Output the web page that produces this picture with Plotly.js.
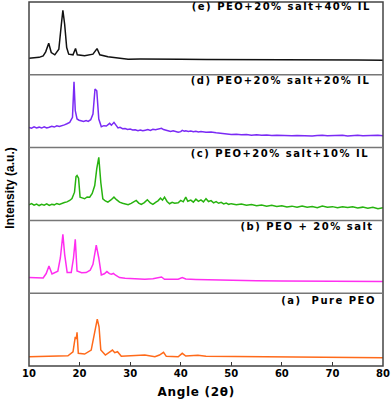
<!DOCTYPE html>
<html>
<head>
<meta charset="utf-8">
<script src="https://cdn.plot.ly/plotly-3.0.1.min.js"></script>
<style>
  html, body { margin: 0; padding: 0; background: #fff; }
  #graph { width: 392px; height: 400px; }
</style>
</head>
<body>
<div id="graph"></div>
<script>
// (a) Pure PEO
var angleA = [10, 12, 13.75, 16, 17.7, 18.7, 19.15, 19.35, 19.5, 19.75, 21, 22.3, 23, 23.5, 23.85, 24.2, 25.1, 26.5, 26.95, 27.5, 28.25, 30, 32.9, 34.9, 35.8, 36.6, 37.15, 39.5, 40.3, 41, 43.4, 45, 50, 55, 60, 65, 70, 75, 80];
var intA = [9.3, 9.5, 9.3, 9.8, 10.3, 14.3, 29.3, 27, 33.7, 12.7, 12, 16, 32.7, 47, 39.3, 16, 11, 16, 13.3, 14.3, 9.7, 10.2, 11, 9.3, 11, 13.7, 9.7, 9.3, 12.7, 10, 10.7, 9.8, 9.5, 9.2, 9, 8.8, 8.7, 8.5, 8.3];

// (b) PEO + 20% salt
var angleB = [10, 11, 12, 12.8, 13.4, 13.95, 14.55, 15.2, 15.7, 16.2, 16.7, 17.05, 17.55, 18.35, 18.8, 19.15, 19.5, 20.4, 21.3, 22.1, 22.65, 23.3, 23.8, 24.3, 24.9, 25.4, 25.9, 26.3, 26.7, 27.05, 27.9, 29, 31, 32.9, 34.5, 36.2, 36.8, 38, 39.5, 40.3, 41, 43, 45, 47, 50, 55, 60, 65, 70, 75, 80];
var intB = [15.7, 15.5, 15.6, 15.3, 19.7, 27.3, 19.3, 20.5, 22, 35.3, 59, 39, 20.7, 20.7, 35.3, 54, 22.3, 20.5, 20.7, 23, 29, 48.3, 35.3, 18.3, 19.5, 21.7, 19.6, 19, 19.8, 18.3, 15.7, 15, 14.6, 14, 14.5, 16.3, 14, 14.3, 14, 15.7, 14.2, 13.8, 13.5, 13.4, 13.2, 12.6, 12.3, 12.2, 12, 11.9, 11.7];

// (c) PEO+20% salt+10% IL
var angleC = [10, 10.5, 11, 11.5, 12, 12.5, 13, 13.5, 14, 14.5, 15, 15.5, 16, 16.5, 17, 17.5, 18.05, 18.5, 19, 19.3, 19.5, 19.8, 20.1, 20.5, 21, 21.5, 22, 22.5, 23, 23.4, 23.8, 24.2, 24.6, 25.1, 25.6, 26.2, 26.8, 27.3, 27.9, 28.5, 29, 29.6, 30.2, 30.7, 31.2, 31.7, 32.2, 32.8, 33.4, 34, 34.5, 35.1, 35.5, 36, 36.4, 36.8, 37.3, 37.8, 38.3, 38.8, 39.5, 40, 40.5, 41, 41.4, 42, 42.5, 43, 43.5, 44, 44.5, 45, 45.5, 46, 46.5, 47, 47.5, 48, 48.5, 49, 49.5, 50, 51, 52, 53, 54, 55, 56, 57, 58, 59, 60, 61, 62, 63, 64, 65, 66, 67, 68, 69, 70, 71, 72, 73, 74, 75, 76, 77, 78, 79, 80];
var intC = [15.7, 16.8, 15.2, 16.4, 14.9, 16.1, 15.3, 16.6, 15, 16.2, 15.6, 17, 16.1, 17.3, 17.9, 18.6, 20, 22, 28.3, 44, 45, 42.3, 23.3, 22.6, 21.7, 23.5, 23.3, 27, 35, 52, 63.3, 38, 21.7, 19.5, 18.3, 20.5, 23.3, 20.8, 18.3, 17.2, 16.5, 15.7, 17.1, 18.2, 20, 17.4, 16, 17.8, 20.7, 17.5, 16, 18.3, 19.6, 22.3, 20.3, 23.3, 19, 16.7, 18.2, 17.2, 17.7, 20, 18.6, 23.3, 19.2, 20.4, 18.3, 21.3, 19.1, 20.6, 18.5, 21.8, 18.9, 19.8, 17.6, 18.9, 17.2, 18.1, 16.6, 17.4, 16.1, 16.8, 15.6, 16.4, 15.2, 15.9, 14.8, 15.5, 14.3, 15.1, 13.9, 14.6, 13.5, 14.3, 13.1, 14.4, 13.2, 13.9, 12.8, 14.5, 13.3, 13.8, 12.6, 13.7, 12.9, 13.6, 12.4, 13.3, 12.1, 13.2, 11.6, 12.8];

// (d) PEO+20% salt+20% IL
var angleD = [10, 10.5, 11, 11.5, 12, 12.5, 13, 13.5, 14, 14.5, 15, 15.5, 16, 16.5, 17, 17.5, 18.05, 18.6, 18.9, 19.15, 19.5, 19.9, 20.35, 20.8, 21.3, 21.7, 22.2, 22.65, 23.05, 23.4, 23.8, 24.3, 24.8, 25.3, 25.95, 26.3, 26.8, 27.2, 27.6, 28, 28.5, 29, 29.5, 30, 30.5, 31, 31.55, 32, 32.5, 33, 33.5, 34, 34.5, 35, 35.5, 36.2, 36.6, 37, 37.5, 38, 38.5, 39, 39.5, 40, 40.3, 40.7, 41, 41.5, 42, 42.5, 43, 43.5, 44, 45, 46, 47, 48, 49, 50, 51, 52, 53, 54, 55, 56, 57, 58, 59, 60, 61, 62, 63, 64, 65, 66, 67, 68, 69, 70, 71, 72, 73, 74, 75, 76, 77, 78, 79, 80];
var intD = [20.3, 19.5, 20.8, 19.8, 20.5, 19.6, 20.9, 19.7, 20.4, 21.3, 20.6, 21.8, 21.2, 22.4, 22.8, 23.9, 25.3, 30.3, 66, 37, 28.7, 27.5, 27, 26.2, 27.1, 26.3, 28, 33.7, 58.7, 57, 28.7, 21, 22, 21.6, 24.3, 22.5, 25.3, 22, 19.7, 20.3, 18.9, 19.2, 18.2, 18.6, 17.6, 17.9, 17, 17.6, 16.9, 17.5, 18.1, 17.3, 18.4, 18, 18.8, 19.3, 18.1, 17.5, 16.8, 16.2, 16.8, 15.7, 15.3, 16, 17.3, 16.4, 16.9, 16.2, 16.6, 15.9, 16.3, 15.7, 16.1, 15.4, 15.7, 14.8, 14.3, 13.8, 13.2, 13.5, 12.8, 13.1, 12.5, 12.9, 12.3, 12.7, 12.1, 12.4, 12, 12.3, 11.8, 12.2, 11.9, 12.3, 11.7, 12.1, 12.4, 11.8, 12.2, 11.9, 12.3, 11.7, 12.1, 12.4, 11.8, 12.2, 11.9, 12.3, 12];

// (e) PEO+20% salt+40% IL
var angleE = [10, 11, 12, 12.8, 13.3, 13.9, 14.4, 15.1, 15.9, 16.4, 16.7, 17.05, 17.45, 17.85, 18.7, 19.2, 19.55, 21, 22.65, 23.45, 24, 25.6, 27.6, 29.6, 32, 35, 38, 40, 45, 50, 55, 60, 65, 70, 75, 80];
var intE = [16.7, 17, 17.5, 19, 23, 31.7, 22.3, 20, 25.7, 50.7, 64.7, 50.7, 27.3, 20.7, 20, 26.3, 20, 19, 20.7, 26.3, 20, 18, 16.7, 15.7, 15.8, 15.5, 15.9, 15.6, 15.3, 15.1, 15.2, 15, 14.9, 15, 14.8, 14.7];

var tickVals = [10, 20, 30, 40, 50, 60, 70, 80];
var labels = ['(e) PEO+20% salt+40% IL', '(d) PEO+20% salt+20% IL', '(c) PEO+20% salt+10% IL', '(b) PEO + 20% salt', '(a)  Pure PEO'];

var colors = ['#ff6a1a', '#ff2ef0', '#27b30f', '#7a2af5', '#111111'];
var series = [[angleA, intA], [angleB, intB], [angleC, intC], [angleD, intD], [angleE, intE]];

var data = [];
for (var i = 0; i < series.length; i++) {
    data.push({
        type: 'scatter',
        mode: 'lines',
        x: series[i][0],
        y: series[i][1],
        xaxis: 'x',
        yaxis: i == 0 ? 'y' : 'y' + (i + 1),
        line: {color: colors[i], width: 1.5},
        hoverinfo: 'skip'
    });
}

var boldFont = {family: 'DejaVu Sans', size: 10, color: '#000', weight: 'bold'};

var layout = {
    width: 392,
    height: 400,
    margin: {l: 29, r: 9, t: 2, b: 34},
    paper_bgcolor: '#fff',
    plot_bgcolor: '#fff',
    showlegend: false,
    xaxis: {
        range: [10, 80],
        tickvals: tickVals,
        ticktext: tickVals.map(String),
        ticks: 'inside',
        ticklen: 4,
        tickcolor: '#333',
        tickfont: boldFont,
        showgrid: false,
        zeroline: false,
        showline: false,
        anchor: 'y'
    },
    shapes: [
        {type: 'rect', xref: 'paper', yref: 'paper', x0: 0, x1: 1, y0: 0, y1: 1,
         line: {color: '#444', width: 1.5}},
    ],
    annotations: []
};

// five stacked panels
for (var k = 0; k < 5; k++) {
    var key = k == 0 ? 'yaxis' : 'yaxis' + (k + 1);
    layout[key] = {
        domain: [k * 0.2, (k + 1) * 0.2],
        range: [0, 73],
        showticklabels: false,
        ticks: '',
        showgrid: false,
        zeroline: false,
        showline: false,
        anchor: 'x',
        fixedrange: true
    };
    if (k > 0) {
        layout.shapes.push({type: 'line', xref: 'paper', yref: 'paper', x0: 0, x1: 1,
            y0: k * 0.2, y1: k * 0.2, line: {color: '#777', width: 1.5}});
    }
}

// label centres (text is spread out after drawing, so anchor in the middle)
var labelX = [0.712, 0.712, 0.709, 0.785, 0.846];
var labelY = [0.9876, 0.7857, 0.5838, 0.3832, 0.1799];
for (var j = 0; j < labels.length; j++) {
    layout.annotations.push({
        text: labels[j],
        xref: 'paper', yref: 'paper',
        x: labelX[j], y: labelY[j],
        xanchor: 'center', yanchor: 'middle',
        showarrow: false,
        font: boldFont
    });
}

// axis titles
layout.annotations.push({
    text: 'Angle (2θ)',
    xref: 'paper', yref: 'paper',
    x: 0.472, y: -0.0706,
    xanchor: 'center', yanchor: 'middle',
    showarrow: false,
    font: {family: 'DejaVu Sans', size: 12, color: '#000', weight: 'bold'}
});
layout.annotations.push({
    text: 'Intensity (a.u.)',
    xref: 'paper', yref: 'paper',
    x: -0.0537, y: 0.49,
    xanchor: 'center', yanchor: 'middle',
    textangle: -90,
    showarrow: false,
    font: {family: 'Liberation Sans', size: 12, color: '#000', weight: 'bold'}
});

var config = {staticPlot: true, displayModeBar: false};
Plotly.newPlot('graph', data, layout, config).then(function(gd) {
    var txt = gd.querySelectorAll('.annotation-text');
    for (var n = 0; n < txt.length; n++) {
        if (n < labels.length) {
            txt[n].style.letterSpacing = '1.5px';
        } else if (n == labels.length) {
            txt[n].style.letterSpacing = '0.7px';
        }
    }
});
</script>
</body>
</html>
